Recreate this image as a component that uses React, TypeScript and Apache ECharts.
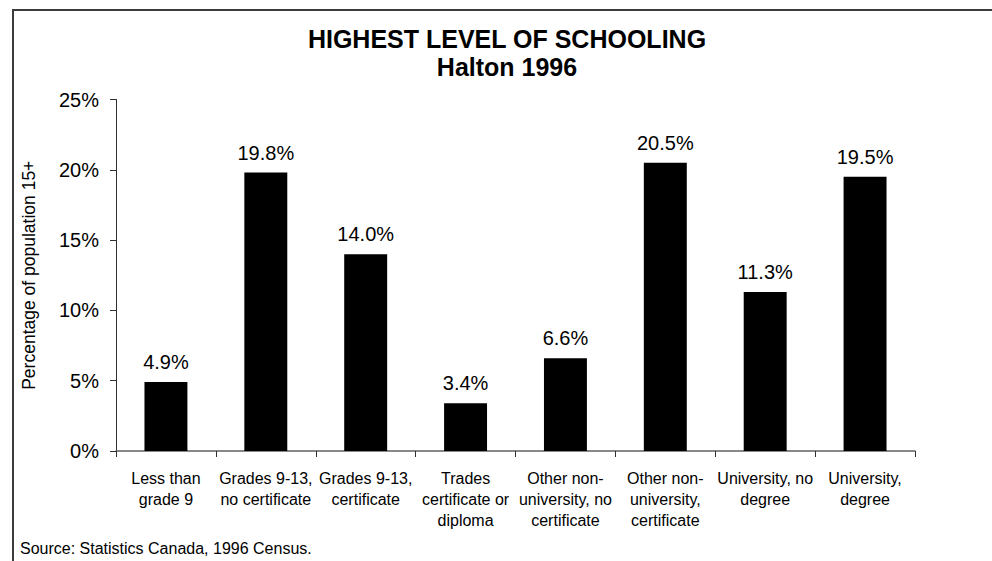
import React, { useEffect, useRef } from "react";
import * as echarts from "echarts";

// Highest level of schooling, Halton 1996 (share of population aged 15+)
const categories: string[] = [
  "Less than\ngrade 9",
  "Grades 9-13,\nno certificate",
  "Grades 9-13,\ncertificate",
  "Trades\ncertificate or\ndiploma",
  "Other non-\nuniversity, no\ncertificate",
  "Other non-\nuniversity,\ncertificate",
  "University, no\ndegree",
  "University,\ndegree",
];
const shares: number[] = [4.9, 19.8, 14.0, 3.4, 6.6, 20.5, 11.3, 19.5];

const titleLines: string[] = ["HIGHEST LEVEL OF SCHOOLING", "Halton 1996"];
const yAxisTitle = "Percentage of population 15+";
const sourceNote = "Source: Statistics Canada, 1996 Census.";

const FONT = "'Liberation Sans', Arial, Helvetica, sans-serif";

export default function App() {
  const ref = useRef<HTMLDivElement>(null);

  useEffect(() => {
    document.body.style.margin = "0";
    const chart = echarts.init(ref.current!, null, { renderer: "svg" });
    chart.setOption({
      animation: false,
      backgroundColor: "#ffffff",
      textStyle: { fontFamily: FONT, color: "#000" },
      grid: { left: 116, right: 77, top: 99.5, bottom: 110, containLabel: false },
      graphic: [
        {
          type: "rect",
          shape: { x: 13, y: 10, width: 1200, height: 800 },
          style: { fill: "none", stroke: "#3c3c3c", lineWidth: 2 },
          silent: true,
        },
        {
          type: "text",
          x: 507,
          y: 39,
          style: {
            text: titleLines[0],
            font: `bold 25px ${FONT}`,
            fill: "#000",
            textAlign: "center",
            textVerticalAlign: "middle",
          },
        },
        {
          type: "text",
          x: 507,
          y: 67,
          style: {
            text: titleLines[1],
            font: `bold 25px ${FONT}`,
            fill: "#000",
            textAlign: "center",
            textVerticalAlign: "middle",
          },
        },
        {
          type: "text",
          x: 20,
          y: 548,
          style: {
            text: sourceNote,
            font: `16px ${FONT}`,
            fill: "#000",
            textAlign: "left",
            textVerticalAlign: "middle",
          },
        },
      ],
      xAxis: {
        type: "category",
        data: categories,
        axisLine: { show: true, lineStyle: { color: "#606060", width: 1.5 } },
        axisTick: {
          show: true,
          alignWithLabel: false,
          length: 6,
          lineStyle: { color: "#303030", width: 1 },
        },
        axisLabel: {
          interval: 0,
          margin: 17,
          fontSize: 16,
          lineHeight: 21,
          color: "#000",
          fontFamily: FONT,
        },
      },
      yAxis: {
        type: "value",
        min: 0,
        max: 25,
        interval: 5,
        name: yAxisTitle,
        nameLocation: "middle",
        nameGap: 78,
        nameTextStyle: { fontSize: 17.5, color: "#000", fontFamily: FONT },
        axisLine: { show: true, lineStyle: { color: "#303030", width: 1 } },
        axisTick: { show: true, length: 6, lineStyle: { color: "#303030" } },
        splitLine: { show: false },
        axisLabel: {
          formatter: "{value}%",
          margin: 17,
          fontSize: 20,
          color: "#000",
          fontFamily: FONT,
        },
      },
      series: [
        {
          type: "bar",
          data: shares,
          barWidth: "43%",
          itemStyle: { color: "#000" },
          label: {
            show: true,
            position: "top",
            distance: 10,
            fontSize: 20,
            color: "#000",
            fontFamily: FONT,
            formatter: (p: any) => `${Number(p.value).toFixed(1)}%`,
          },
        },
      ],
    });
    return () => chart.dispose();
  }, []);

  return (
    <div
      ref={ref}
      style={{ position: "fixed", left: 0, top: 0, width: 992, height: 561 }}
    />
  );
}
